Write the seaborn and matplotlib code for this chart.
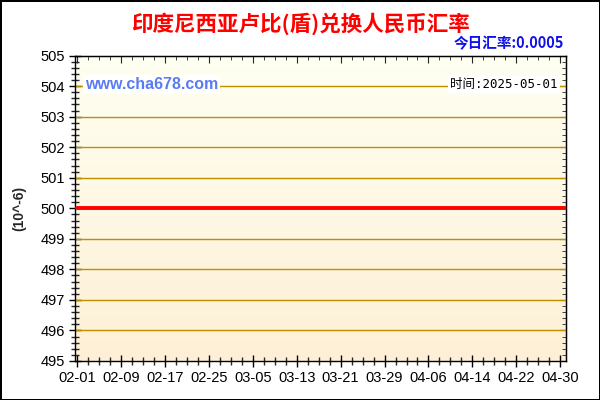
import numpy as np
import pandas as pd
import matplotlib
matplotlib.use("Agg")
import matplotlib.pyplot as plt
import matplotlib.dates as mdates
from matplotlib.ticker import MultipleLocator
from matplotlib.colors import LinearSegmentedColormap
import seaborn as sns

# ---- data ----
dates = pd.date_range("2025-02-01", "2025-05-01", freq="D")
rates = [500.0] * len(dates)          # rate in units of 10^-6
title = "印度尼西亚卢比(盾)兑换人民币汇率"
today_rate = "今日汇率:0.0005"
site = "www.cha678.com"
time_label = "时间:2025-05-01"
y_unit = "(10^-6)"
y_ticks = [495, 496, 497, 498, 499, 500, 501, 502, 503, 504, 505]

df = pd.DataFrame({"date": dates, "rate": rates})

sns.set_style("white")
plt.rcParams["font.family"] = ["Liberation Sans", "Noto Sans CJK SC", "DejaVu Sans"]

fig = plt.figure(figsize=(6, 4), dpi=100)
fig.patch.set_facecolor("white")
fig.patch.set_edgecolor("black")
fig.patch.set_linewidth(2)
ax = fig.add_axes([0.125, 0.0975, 0.818, 0.7635])

x0 = mdates.date2num(pd.Timestamp("2025-02-01"))
xlim = (x0 - 0.35, x0 + 89)
ylim = (495, 505)

# gradient background
cmap = LinearSegmentedColormap.from_list("bg", ["#FDF0D6", "#FFFFF2"])
grad = np.linspace(0, 1, 256).reshape(-1, 1)
ax.imshow(grad, cmap=cmap, aspect="auto", origin="lower",
          extent=[xlim[0], xlim[1], ylim[0], ylim[1]], zorder=0)

# horizontal grid
for yv in y_ticks[1:-1]:
    ax.axhline(yv, color="#BF8F00", lw=1, zorder=1)

sns.lineplot(data=df, x="date", y="rate", ax=ax, color="#FF0000", lw=2.8, zorder=3)

ax.set_xlim(xlim)
ax.set_ylim(ylim)
ax.set_xlabel("")
ax.set_ylabel(y_unit, fontsize=10, fontweight="bold", labelpad=10)
ax.set_xticks([x0 + 8 * i for i in range(12)])
ax.xaxis.set_major_formatter(mdates.DateFormatter("%m-%d"))
ax.xaxis.set_minor_locator(MultipleLocator(2))
ax.set_yticks(y_ticks)
ax.yaxis.set_minor_locator(MultipleLocator(0.2))
ax.tick_params(axis="both", which="major", direction="inout", length=9, width=1,
               labelsize=10.5, colors="black", pad=3)
ax.tick_params(axis="both", which="minor", direction="inout", length=6, width=1)
ax.tick_params(axis="both", which="both", top=False, right=False, bottom=True, left=True)
for s in ax.spines.values():
    s.set_visible(True)
    s.set_color("black")
    s.set_linewidth(1)

# inward ticks on top/right
secx = ax.secondary_xaxis("top")
secx.set_xticks([x0 + 8 * i for i in range(12)])
secx.xaxis.set_minor_locator(MultipleLocator(2))
secx.tick_params(which="major", direction="in", length=5, labeltop=False)
secx.tick_params(which="minor", direction="in", length=3)
secy = ax.secondary_yaxis("right")
secy.set_yticks(y_ticks)
secy.yaxis.set_minor_locator(MultipleLocator(0.2))
secy.tick_params(which="major", direction="in", length=5, labelright=False)
secy.tick_params(which="minor", direction="in", length=3)

cjk = ["Noto Sans CJK SC", "DejaVu Sans"]
fig.text(0.5, 0.94, title, ha="center", va="center", color="#FF0000",
         fontsize=15.5, fontweight="bold", family=cjk)
fig.text(0.94, 0.892, today_rate, ha="right", va="center", color="#1010E8",
         fontsize=10.5, fontweight="bold", family=cjk)
ax.text(0.02, 0.905, site, transform=ax.transAxes, ha="left", va="center",
        color="#5A7CF0", fontsize=11.5, fontweight="bold",
        bbox=dict(facecolor="white", edgecolor="none", pad=1.5), zorder=5)
ax.text(0.983, 0.905, time_label, transform=ax.transAxes, ha="right", va="center",
        color="black", fontsize=9, family=["DejaVu Sans Mono", "Noto Sans CJK SC"],
        bbox=dict(facecolor="white", edgecolor="none", pad=1.5), zorder=5)

fig.savefig("out.png", dpi=100, facecolor="white", edgecolor="black")
